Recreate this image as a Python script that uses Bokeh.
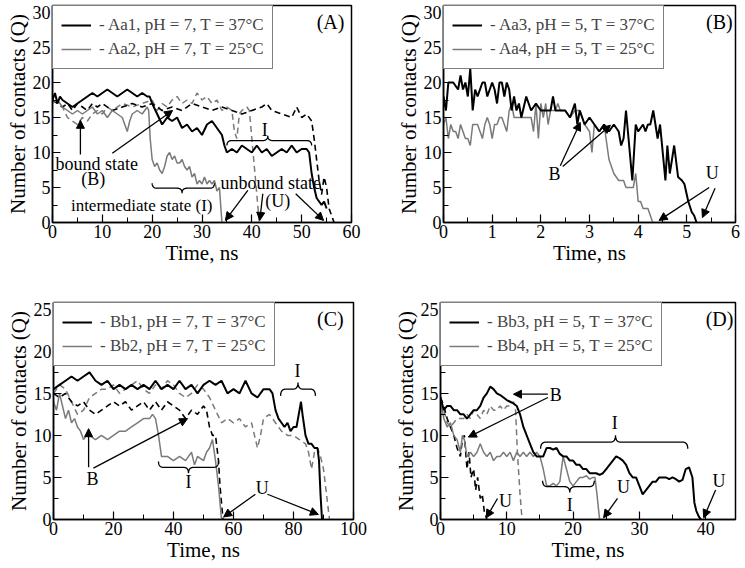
import numpy as np
from bokeh.plotting import figure
from bokeh.layouts import column, row
from bokeh.models import (Range1d, SingleIntervalTicker, Legend, LegendItem,
                          Label, Arrow, NormalHead)
from bokeh.embed import file_html
from bokeh.resources import INLINE

# ---------------- Panel A data ----------------
A_aa1_t = [0,0.5,1,1.5,2,3,4,5,6,7,8,9,10,11,12,13,14,15,16,17,18,19,19.5,20,21,22,23,24,25,26,27,28,29,30,31,32,33,34,34.5,35,36,37,38,39,40,41,42,43,44,45,46,47,48,49,50,51,51.5,52,52.5,53,53.5,54,54.5,55]
A_aa1_q = [17.5,18.5,17,18,17.5,17,16.5,17,17.5,18,18.5,18,18.5,19,18.5,18,18.5,19,18.5,18,18.5,18,18,17,15.5,14,15,14.5,15,13.5,14,13,13.5,12.5,14,14.5,13.5,12.5,11,10,10.5,10,11,10.5,10,11,10,10.5,9.5,10,10.5,10,11,10,10.5,10.5,10,7,5,3.5,3,2.5,3,2,1,0]
A_aa1b_t = [0,1,2,3,4,5,6,7,8,9,10,12,14,16,18,20,22,24,26,28,30,32,34,36,38,40,42,43,44,46,48,49,50,51,52,52.5,53,53.5,54,54.5,55,55.5,56,56.5]
A_aa1b_q = [17.5,17,16.5,17,16,17,16.5,16,17,16.5,17,16,16.5,17,16.5,17,16,16.5,16,17,16.5,16,16.5,16,15.5,16,16.5,17,16,15.5,15,16.5,15,15.5,14.5,12,9,6,4,6.5,5,2,1,0]
A_aa2_t = [0,1,2,3,4,5,6,7,8,9,10,11,12,13,14,15,15.5,16,17,18,19,19.3,19.6,20,20.5,21,21.5,22,22.5,23,23.5,24,24.5,25,25.5,26,26.5,27,27.5,28,28.5,29,29.5,30,30.5,31,31.5,32,32.5,33,33.5,34]
A_aa2_q = [17,17.5,16.5,16,15.5,16,15.5,16,16.5,15.5,16,15,16,15.5,15,13,14.5,15.5,16,15.5,16.5,16,12,9,8,8.5,7.5,7,8,9.5,10,9,9.5,8.5,8.5,9,8,7.5,8,6.5,7,5.5,6,5.5,6.5,5.5,6,5.5,6,4.5,5,0]
A_aa2b_t = [0,1,2,3,4,5,6,7,8,9,10,11,12,14,16,18,20,21,22,23,24,25,26,27,28,29,30,31,32,33,34,35,36,36.5,37,37.5,38,39,39.5,40,40.5,41,41.5]
A_aa2b_q = [17.5,17,16.5,15,14.5,14,15,14.5,15.5,16,15.5,16.5,16,17,16.5,17,17.5,16,17,16.5,17.5,18,17,17.5,17,18.5,17.5,18,17,17.5,16,16.5,16,13,12,15.5,16,16.5,16,12,8,4,0]

# ---------------- Panel B data ----------------
B_aa3_t = [0,0.05,0.1,0.15,0.2,0.3,0.35,0.4,0.45,0.5,0.55,0.6,0.65,0.7,0.8,0.85,0.9,1.0,1.05,1.1,1.15,1.2,1.25,1.3,1.35,1.4,1.45,1.5,1.55,1.6,1.7,1.8,1.9,2.0,2.1,2.2,2.25,2.3,2.4,2.5,2.6,2.7,2.75,2.8,2.85,2.9,3.0,3.1,3.2,3.3,3.4,3.5,3.6,3.65,3.7,3.75,3.88,3.95,4.0,4.1,4.15,4.2,4.25,4.31,4.4,4.45,4.56,4.6,4.65,4.74,4.82,4.9,4.95,5.03,5.1,5.15,5.2]
B_aa3_q = [18,16,20,20,20,19,21,19,20,18,22,16,19,18,20,20,18,20,19,17,20,20,18,20,19,16,18,16,17,15,18,16,17,16,16,16,18,16,16,16,15,17,14,16,15,14,15,14,13,14,13,14,13,11,12,16,6,14,13,14,13,14,14,16,12,14,6,11,7,11,6.5,6,5.5,3,1.5,1,0]
B_aa4_t = [0,0.05,0.1,0.15,0.2,0.25,0.3,0.35,0.4,0.45,0.5,0.55,0.6,0.65,0.7,0.75,0.8,0.85,0.9,0.95,1.0,1.05,1.1,1.15,1.2,1.3,1.35,1.4,1.45,1.5,1.6,1.7,1.8,1.85,1.9,1.95,2.0,2.05,2.1,2.15,2.2,2.3,2.35,2.4,2.5,2.6,2.7,2.8,2.9,3.0,3.05,3.1,3.2,3.3,3.4,3.5,3.6,3.7,3.75,3.8,3.9,3.95,4.0,4.05,4.1,4.2,4.3]
B_aa4_q = [14,15,12,14,13,13,12,14,13,12,12,11,14,14,14,13,12,14,15,14,12,14,14,15,15,13,16,17,15,15,15,15,15,13,17,12,17,15,17,14,16,16,17,16,16,15,16,16,14,13,10,14,13,14,9,7,6,6,5,5,5,7,3,3,2,2,0]

# ---------------- Panel C data ----------------
C_bb1_t = [0,2,4,6,8,10,12,13,14,16,18,20,22,24,26,28,30,32,34,36,38,40,42,44,46,48,50,52,54,56,58,60,62,64,66,68,70,72,73,74,75,76,77,78,79,80,81,82,82.5,83,84,85,86,87,88,88.5,89,89.5]
C_bb1_q = [15.5,16,16.5,17,16.5,17,17.5,17,16.5,16,16.5,15.5,16,15.5,16,15.5,16,15.5,16.5,15.5,16,15.5,16.5,15.5,16,15,16,16.5,16,16.5,15,15.5,15,16.5,15,14.5,15.5,15.5,15,13,12,11.5,11,11.5,10.5,11,11,13,14,12.5,10,9,9,8.5,8.5,7,3,0]
C_bb1b_t = [0,2,4,6,8,10,12,14,16,18,20,22,24,26,28,30,32,34,36,38,40,42,44,46,48,50,51,52,53,54,55,55.5,56,56.5]
C_bb1b_q = [15,14.5,15,14,13.5,14,13,12.5,13,13.5,14,13.5,14,13,13.5,14,13,14,13,14,13.5,13,12,13,12.5,13.5,13,11,10,10,7,4,2,0]
C_bb2_t = [0,1,2,3,4,5,6,7,8,9,10,11,12,14,16,18,20,22,24,26,28,30,32,33,34,35,36,38,40,42,44,46,47,48,50,51,52,53,54,55,55.5,56]
C_bb2_q = [14,13,15,13.5,12,13,11.5,12,11,10.5,9.5,10,10,9.5,10,9.5,10,10.5,10.5,11,11.5,12,12,12.5,12,10,7.5,7.5,7,7.5,7,8,6.5,7.5,7,8,8.5,9.5,7,4,2,0]
C_bb2b_t = [0,2,4,6,8,10,12,14,16,18,20,22,24,26,28,30,32,34,36,38,40,42,44,46,48,50,52,54,56,58,60,62,64,66,68,69,70,72,74,76,78,80,82,84,85,86,87,88,89,90,91,92]
C_bb2b_q = [15,16,15.5,14,12.5,13,14.5,15,15.5,15.5,16,15,15.5,16,16.5,15.5,15,16,15.5,16.5,16,15,14.5,15,16,15.5,14.5,13,11.5,12,11.5,12,11,11.5,8.5,10,12,12.5,11.5,10.5,10,10,9.5,9,8,6,8,8.5,7.5,6,3,0]

# ---------------- Panel D data ----------------
D_bb3_t = [0,0.5,1,1.5,2,2.5,3,3.5,4,4.5,5,5.5,6,6.5,7,7.5,8,8.5,9,9.5,10,10.5,11,11.5,12,12.5,13,13.5,14,14.5,15,15.5,16,16.5,17,17.5,18,18.5,19,19.5,20,20.5,21,21.5,22,22.5,23,23.5,24,24.5,25,25.5,26,26.5,27,27.5,28,28.5,29,29.5,30,30.5,31,31.5,32,32.5,33,33.5,34,34.5,35,35.5,36,36.5,37,37.5,38,38.3,38.6,39,39.3]
D_bb3_q = [14.5,13,13.5,13.5,13,13,12.5,12.5,12,12.5,13,13,13.5,14.5,15,15.8,15.5,15,14.8,14.5,14.2,14,13.8,13.5,12.5,11,10,9,8,7.5,7.5,7.5,8.5,8.5,8.3,8.5,7.8,7.5,7.5,7,7,6.5,6.5,6,6,5.5,5.5,5.5,5.3,5.5,6,6.5,7,7.5,7.3,7,6.5,5.5,5,5,4,3,3.5,4,4.5,4.5,5,5,5,4.8,5,4.8,4.5,4.7,6,6.2,5,2,1,0.3,0]
D_bb3b_t = [0,0.5,1,1.5,2,2.5,3,3.3,3.6,4,4.3,4.6,5,5.3,5.6,6,6.3,6.6,7]
D_bb3b_q = [14.5,13.5,12,11,10,8.5,7.5,9.5,10,6,8,5,6,3.5,5,2.5,3,1,0]
D_bb4_t = [0,0.5,1,1.5,2,2.5,3,3.3,3.6,4,4.5,5,5.5,6,6.5,7,7.5,8,8.5,9,9.5,10,10.5,11,11.5,12,12.5,13,13.5,14,14.5,15,15.5,16,16.5,17,17.5,18,18.5,19,19.5,20,20.5,21,21.5,22,22.5,23,23.3,23.6,24]
D_bb4_q = [14,12,11,11.5,10,9.5,8,10,9.5,7.5,8,7.5,8,9,8,7.5,8,7,7.5,7.5,8,7.5,8,7,8,7.5,8,7.5,8,7.5,8,7.5,6,4,4,4.3,4,4.5,7.5,6,4.5,4,4.5,5,5,5.2,4.8,5,5,3,0]
D_bb4b_t = [0,0.5,1,1.5,2,2.5,3,3.5,4,4.5,5,5.5,6,6.5,7,7.5,8,8.5,9,9.5,10,10.5,11,11.3,11.6,12,12.3]
D_bb4b_q = [14,13,11.5,11,11.5,12,12,12,12.5,12,13,12.5,12,13,12.5,13.5,13,13,13.5,13,13.5,13.5,14,13.5,8,3,0]

legend_A = ["- Aa1, pH = 7, T = 37°C", "- Aa2, pH = 7, T = 25°C"]
legend_B = ["- Aa3, pH = 5, T = 37°C", "- Aa4, pH = 5, T = 25°C"]
legend_C = ["- Bb1, pH = 7, T = 37°C", "- Bb2, pH = 7, T = 25°C"]
legend_D = ["- Bb3, pH = 5, T = 37°C", "- Bb4, pH = 5, T = 25°C"]

FONT = "'Liberation Serif', serif"
GRAY = "#7a7a7a"


def make_fig(xr, yr, w, h, bl, br, bt, bb, xint):
    p = figure(width=w, height=h, x_range=Range1d(*xr), y_range=Range1d(*yr),
               output_backend="svg", toolbar_location=None,
               min_border_left=bl, min_border_right=br,
               min_border_top=bt, min_border_bottom=bb)
    p.grid.visible = False
    p.outline_line_color = "black"
    p.outline_line_width = 1.5
    p.xaxis.ticker = SingleIntervalTicker(interval=xint, num_minor_ticks=2)
    p.yaxis.ticker = SingleIntervalTicker(interval=5, num_minor_ticks=2)
    for ax in (p.xaxis[0], p.yaxis[0]):
        ax.major_tick_in = 8
        ax.major_tick_out = 0
        ax.minor_tick_in = 5
        ax.minor_tick_out = 0
        ax.axis_line_color = "black"
        ax.axis_line_width = 1.5
        ax.major_tick_line_width = 1.2
        ax.major_label_text_font = FONT
        ax.major_label_text_font_size = "18px"
        ax.major_label_text_color = "black"
        ax.major_label_standoff = 2
        ax.axis_label_text_font = FONT
        ax.axis_label_text_font_size = "21px"
        ax.axis_label_text_font_style = "normal"
        ax.axis_label_text_color = "black"
        ax.axis_label_standoff = 0
    p.xaxis.axis_label = "Time, ns"
    p.yaxis.axis_label = "Number of contacts (Q)"
    return p


def add_series(p, t_sol_k, q_sol_k, t_dash_k, q_dash_k, t_sol_g, q_sol_g, t_dash_g, q_dash_g, labels):
    rg2 = p.line(t_dash_g, q_dash_g, line_color=GRAY, line_width=1.5, line_dash="6 4")
    rk2 = p.line(t_dash_k, q_dash_k, line_color="black", line_width=1.6, line_dash="6 4")
    rg = p.line(t_sol_g, q_sol_g, line_color=GRAY, line_width=1.5)
    rk = p.line(t_sol_k, q_sol_k, line_color="black", line_width=2)
    leg = Legend(items=[LegendItem(label=labels[0], renderers=[rk]),
                        LegendItem(label=labels[1], renderers=[rg])],
                 location="top_left", margin=0, padding=8, spacing=2,
                 label_height=22, glyph_height=22, glyph_width=30,
                 label_standoff=8, border_line_color="black",
                 border_line_width=1.5, background_fill_alpha=1.0,
                 label_text_font=FONT, label_text_font_size="17px")
    p.add_layout(leg)


def brace(p, x0, x1, y, h, e, xm=None):
    if xm is None:
        xm = (x0 + x1) / 2.0
    s = np.linspace(0, 1, 12)

    def quad(a, c, b):
        return ((1 - s) ** 2 * a[0] + 2 * (1 - s) * s * c[0] + s ** 2 * b[0],
                (1 - s) ** 2 * a[1] + 2 * (1 - s) * s * c[1] + s ** 2 * b[1])
    segs = [quad((x0, y - h), (x0, y), (x0 + e, y)),
            quad((xm - e, y), (xm, y), (xm, y + h)),
            quad((xm, y + h), (xm, y), (xm + e, y)),
            quad((x1 - e, y), (x1, y), (x1, y - h))]
    xs = np.concatenate([seg[0] for seg in segs])
    ys = np.concatenate([seg[1] for seg in segs])
    p.line(xs, ys, line_color="black", line_width=1.3)


def text(p, x, y, s, size="18px"):
    p.add_layout(Label(x=x, y=y, text=s, text_font=FONT, text_font_size=size,
                       text_align="center", text_baseline="middle", text_color="black"))


def arrow(p, x0, y0, x1, y1):
    p.add_layout(Arrow(end=NormalHead(size=8, fill_color="black", line_color="black", line_width=1),
                       x_start=x0, y_start=y0, x_end=x1, y_end=y1,
                       line_color="black", line_width=1.3))


# ---------------- Panel A ----------------
pA = make_fig((0, 60), (0, 31), 372, 284, 52, 21, 5, 62, 10)
add_series(pA, A_aa1_t, A_aa1_q, A_aa1b_t, A_aa1b_q, A_aa2_t, A_aa2_q, A_aa2b_t, A_aa2b_q, legend_A)
text(pA, 55.8, 28.6, "(A)", "20px")
text(pA, 8.9, 8.4, "bound state")
text(pA, 8.2, 6.2, "(B)")
arrow(pA, 5.6, 9.7, 5.6, 14.6)
arrow(pA, 12, 9.9, 24.1, 16)
brace(pA, 20, 32.5, 4.9, -0.7, 1.0, 26)
text(pA, 17.9, 2.4, "intermediate state (I)", "17px")
brace(pA, 35, 52, 11.7, 0.7, 1.0, 43.2)
text(pA, 42.6, 13.2, "I")
text(pA, 43.8, 5.6, "unbound state")
text(pA, 45.2, 3.1, "(U)")
arrow(pA, 39.2, 4.6, 34.7, 0.3)
arrow(pA, 42.2, 4.1, 41.6, 0.3)
arrow(pA, 48.8, 4.1, 54.4, 0.3)

# ---------------- Panel B ----------------
pB = make_fig((0, 6), (0, 31), 372, 284, 71, 9, 5, 62, 1)
add_series(pB, B_aa3_t, B_aa3_q, [], [], B_aa4_t, B_aa4_q, [], [], legend_B)
text(pB, 5.67, 28.6, "(B)", "20px")
text(pB, 2.28, 7.0, "B")
arrow(pB, 2.4, 8.1, 2.81, 14.3)
arrow(pB, 2.45, 8.0, 3.43, 13.9)
text(pB, 5.52, 7.1, "U")
arrow(pB, 5.46, 5.0, 4.43, 0.3)
arrow(pB, 5.58, 4.9, 5.32, 0.7)

# ---------------- Panel C ----------------
pC = make_fig((0, 100), (0, 25.8), 372, 283, 53, 19, 18, 48, 20)
add_series(pC, C_bb1_t, C_bb1_q, C_bb1b_t, C_bb1b_q, C_bb2_t, C_bb2_q, C_bb2b_t, C_bb2b_q, legend_C)
text(pC, 92.3, 23.8, "(C)", "20px")
text(pC, 13, 4.8, "B")
arrow(pC, 11.7, 6.2, 11.7, 10.8)
arrow(pC, 13.3, 6.1, 44.7, 12)
brace(pC, 35, 55, 6.2, -0.7, 1.7, 45)
text(pC, 45, 4.5, "I")
brace(pC, 75.7, 87.3, 15.5, 0.8, 1.7, 81.5)
text(pC, 81.3, 17.6, "I")
text(pC, 69.6, 3.8, "U")
arrow(pC, 67.3, 3.0, 56.7, 0.3)
arrow(pC, 71.3, 3.0, 88.3, 0.6)

# ---------------- Panel D ----------------
pD = make_fig((0, 44.5), (0, 25.8), 372, 283, 68, 9, 18, 48, 10)
add_series(pD, D_bb3_t, D_bb3_q, D_bb3b_t, D_bb3b_q, D_bb4_t, D_bb4_q, D_bb4b_t, D_bb4b_q, legend_D)
text(pD, 42.1, 23.8, "(D)", "20px")
text(pD, 17.4, 14.8, "B")
arrow(pD, 16.2, 14.9, 11.0, 14.9)
arrow(pD, 16.2, 14.5, 4.2, 9.8)
brace(pD, 15.1, 37.3, 9.2, 0.8, 0.8, 26.4)
text(pD, 26.3, 11.5, "I")
brace(pD, 15.4, 23.2, 3.9, -0.7, 0.8, 19.5)
text(pD, 19.5, 1.7, "I")
text(pD, 9.8, 2.2, "U")
arrow(pD, 8.6, 2.5, 6.9, 0.2)
text(pD, 27.6, 3.9, "U")
arrow(pD, 26.7, 2.5, 24.6, 0.2)
text(pD, 42.0, 4.6, "U")
arrow(pD, 41.5, 3.5, 39.7, 0.2)

layout = column(row(pA, pB, spacing=0), row(pC, pD, spacing=0), spacing=0)
open("out.html", "w").write(file_html(layout, INLINE))
